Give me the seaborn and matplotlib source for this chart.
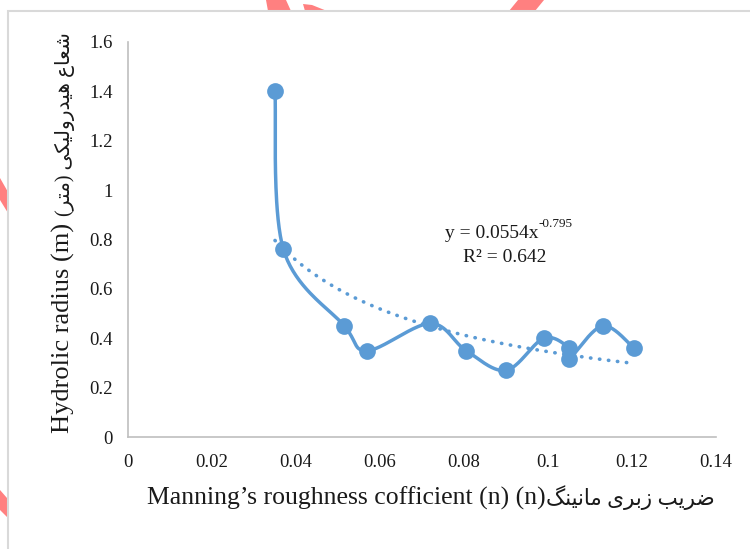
import matplotlib
matplotlib.use("Agg")
import matplotlib.pyplot as plt
import numpy as np
import seaborn as sns
from matplotlib.patches import Polygon, Rectangle

# data
manning_n = [0.035, 0.037, 0.0515, 0.057, 0.072, 0.0805, 0.090, 0.099, 0.105, 0.105, 0.113, 0.1205]
hyd_radius = [1.40, 0.76, 0.45, 0.35, 0.46, 0.35, 0.27, 0.40, 0.36, 0.315, 0.45, 0.36]

# power trendline shown on the chart: y = a * x^b
trend_a = 0.0554
trend_b = -0.795
trend_r2 = 0.642

x_ticks = [0, 0.02, 0.04, 0.06, 0.08, 0.1, 0.12, 0.14]
x_tick_labels = ["0", "0.02", "0.04", "0.06", "0.08", "0.1", "0.12", "0.14"]
y_ticks = [0, 0.2, 0.4, 0.6, 0.8, 1.0, 1.2, 1.4, 1.6]
y_tick_labels = ["0", "0.2", "0.4", "0.6", "0.8", "1", "1.2", "1.4", "1.6"]

x_label_en = "Manning\u2019s roughness cofficient (n) (n)"
x_label_fa = "ضریب زبری مانینگ"
y_label_en = "Hydrolic radius (m) "
y_label_fa = "شعاع هیدرولیکی (متر)"

blue = "#5b9bd5"
pink = "#ff8080"
ink = "#1a1a1a"

# minimal persian shaping (matplotlib has no complex text layout)
FORMS = {
    "ش": ("\ufeb5", "\ufeb6", "\ufeb7", "\ufeb8"),
    "ع": ("\ufec9", "\ufeca", "\ufecb", "\ufecc"),
    "ا": ("\ufe8d", "\ufe8e", None, None),
    "ه": ("\ufee9", "\ufeea", "\ufeeb", "\ufeec"),
    "ی": ("\ufbfc", "\ufbfd", "\ufbfe", "\ufbff"),
    "د": ("\ufea9", "\ufeaa", None, None),
    "ر": ("\ufead", "\ufeae", None, None),
    "و": ("\ufeed", "\ufeee", None, None),
    "ل": ("\ufedd", "\ufede", "\ufedf", "\ufee0"),
    "ک": ("\ufb8e", "\ufb8f", "\ufb90", "\ufb91"),
    "م": ("\ufee1", "\ufee2", "\ufee3", "\ufee4"),
    "ت": ("\ufe95", "\ufe96", "\ufe97", "\ufe98"),
    "ض": ("\ufebd", "\ufebe", "\ufebf", "\ufec0"),
    "ب": ("\ufe8f", "\ufe90", "\ufe91", "\ufe92"),
    "ز": ("\ufeaf", "\ufeb0", None, None),
    "ن": ("\ufee5", "\ufee6", "\ufee7", "\ufee8"),
    "گ": ("\ufb92", "\ufb93", "\ufb94", "\ufb95"),
}


def persian_visual(text):
    out = []
    for i, ch in enumerate(text):
        if ch not in FORMS:
            out.append(ch)
            continue
        prev = text[i - 1] if i > 0 else ""
        nxt = text[i + 1] if i + 1 < len(text) else ""
        joins_prev = prev in FORMS and FORMS[prev][2] is not None
        joins_next = FORMS[ch][2] is not None and nxt in FORMS
        if joins_prev and joins_next:
            out.append(FORMS[ch][3])
        elif joins_prev:
            out.append(FORMS[ch][1])
        elif joins_next:
            out.append(FORMS[ch][2])
        else:
            out.append(FORMS[ch][0])
    mirror = {"(": ")", ")": "("}
    return "".join(mirror.get(c, c) for c in reversed(out))


sns.set_style("white")
plt.rcParams["font.family"] = ["Liberation Serif", "DejaVu Sans"]

W, H = 750, 549
fig = plt.figure(figsize=(7.5, 5.49), dpi=100)


def fp(x, y):
    return (x / W, 1 - y / H)


# chart area frame and the stray pink shapes around it
for pts in [
    [(266, 0), (286, 0), (291, 11), (268, 11)],
    [(303, 4), (312, 5), (327, 11), (305, 11)],
    [(518, 0), (544, 0), (535, 11), (509, 11)],
    [(0, 178), (8, 192), (8, 213), (0, 200)],
    [(0, 490), (7, 498), (7, 517), (0, 510)],
]:
    fig.patches.append(Polygon([fp(*p) for p in pts], closed=True, transform=fig.transFigure,
                               facecolor=pink, edgecolor="none", zorder=-3))
fig.patches.append(Rectangle(fp(8, 600), 800 / W, 589 / H, transform=fig.transFigure,
                             facecolor="white", edgecolor="#d9d9d9", linewidth=1.5, zorder=-2))

ax = fig.add_axes([128 / W, 1 - 437 / H, 588 / W, 395 / H])
ax.set_xlim(0, 0.14)
ax.set_ylim(0, 1.6)
ax.patch.set_alpha(0)

# smoothed connecting line (catmull-rom in display space, like Excel)
pts = ax.transData.transform(np.column_stack([manning_n, hyd_radius]))
ext = np.vstack([pts[0], pts, pts[-1]])
curve = []
for i in range(len(pts) - 1):
    p0, p1, p2, p3 = ext[i], ext[i + 1], ext[i + 2], ext[i + 3]
    c1 = p1 + (p2 - p0) / 6
    c2 = p2 - (p3 - p1) / 6
    t = np.linspace(0, 1, 40)[:, None]
    seg = (1 - t) ** 3 * p1 + 3 * (1 - t) ** 2 * t * c1 + 3 * (1 - t) * t ** 2 * c2 + t ** 3 * p2
    curve.append(seg if i == 0 else seg[1:])
curve = ax.transData.inverted().transform(np.vstack(curve))
sns.lineplot(x=curve[:, 0], y=curve[:, 1], sort=False, estimator=None, ax=ax,
             color=blue, linewidth=2.5, solid_capstyle="round", zorder=2)

# power trendline
tx = np.linspace(min(manning_n), max(manning_n), 200)
ty = trend_a * tx ** trend_b
sns.lineplot(x=tx, y=ty, sort=False, estimator=None, ax=ax, color=blue,
             linewidth=2.6, linestyle=(0, (0.1, 2.4)), dash_capstyle="round", zorder=2)

sns.scatterplot(x=manning_n, y=hyd_radius, ax=ax, color=blue, s=145, linewidth=0, zorder=3)

renderer = fig.canvas.get_renderer()

# trendline equation, superscript drawn as its own small text
eq = ax.text(0.618, 0.516, "y = %.4fx" % trend_a, transform=ax.transAxes,
             ha="center", va="center", fontsize=14, color=ink)
bb = eq.get_window_extent(renderer)
fig.text((bb.x1 + 0.5) / W, (bb.y1 - 5) / H, "%.3f" % trend_b, ha="left", va="bottom",
         fontsize=9.5, color=ink)
ax.text(0.641, 0.455, "R² = %.3f" % trend_r2, transform=ax.transAxes,
        ha="center", va="center", fontsize=14, color=ink)

ax.set_xticks(x_ticks)
ax.set_xticklabels(x_tick_labels)
ax.set_yticks(y_ticks)
ax.set_yticklabels(y_tick_labels)
ax.tick_params(axis="both", length=0, labelsize=13.5, colors=ink)
ax.tick_params(axis="y", pad=11)
ax.tick_params(axis="x", pad=12)
for side in ["top", "right"]:
    ax.spines[side].set_visible(False)
for side in ["left", "bottom"]:
    ax.spines[side].set_color("#bfbfbf")
    ax.spines[side].set_linewidth(1.2)
ax.set_xlabel("")
ax.set_ylabel("")

# axis titles: english part in serif, persian part after it in a smaller size
xl = fig.text(*fp(147, 505), x_label_en, ha="left", va="baseline", fontsize=18.5, color=ink)
xend = xl.get_window_extent(renderer).x1
fig.text(xend / W, 1 - 505 / H, persian_visual(x_label_fa), ha="left", va="baseline",
         fontsize=15.5, color=ink)
yl = fig.text(*fp(70, 433), y_label_en, ha="left", va="baseline", rotation=90,
              rotation_mode="anchor", fontsize=19, color=ink)
yend = yl.get_window_extent(renderer).y1
fig.text(70 / W, yend / H, persian_visual(y_label_fa), ha="left", va="baseline", rotation=90,
         rotation_mode="anchor", fontsize=14.5, color=ink)

fig.savefig("out.png", dpi=100)
